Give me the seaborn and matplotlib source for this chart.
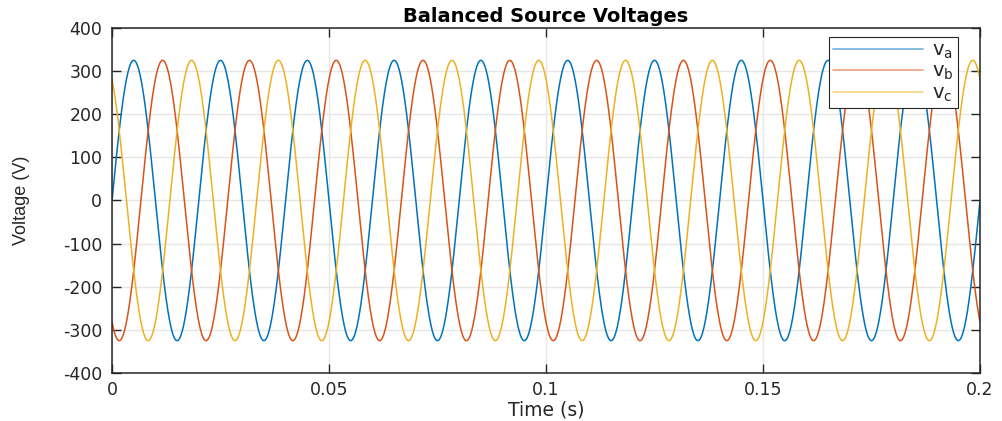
import numpy as np
import pandas as pd
import matplotlib
matplotlib.use("Agg")
import matplotlib.pyplot as plt
import seaborn as sns

# ---- data ----
phases = ["v_a", "v_b", "v_c"]
legend_labels = [r"$\mathregular{v_a}$", r"$\mathregular{v_b}$", r"$\mathregular{v_c}$"]
amplitudes = [325, 325, 325]          # peak voltage (V)
frequency_hz = [50, 50, 50]           # 10 cycles in 0.2 s
phase_deg = [0, -120, 120]            # phase shifts
colors = ["#0072BD", "#D95319", "#EDB120"]
x_ticks = [0, 0.05, 0.1, 0.15, 0.2]
x_tick_labels = ["0", "0.05", "0.1", "0.15", "0.2"]
y_ticks = [-400, -300, -200, -100, 0, 100, 200, 300, 400]

t = np.linspace(0, 0.2, 4001)
frames = []
for name, A, f, ph in zip(phases, amplitudes, frequency_hz, phase_deg):
    frames.append(pd.DataFrame({
        "Time (s)": t,
        "Voltage (V)": A * np.sin(2 * np.pi * f * t + np.deg2rad(ph)),
        "phase": name,
    }))
df = pd.concat(frames, ignore_index=True)

sns.set_theme(style="ticks")
plt.rcParams["font.family"] = ["DejaVu Sans"]
plt.rcParams["axes.unicode_minus"] = False

fig = plt.figure(figsize=(10.02, 4.21), dpi=100)
ax = fig.add_axes([112 / 1002, 1 - 373 / 421, (980 - 112) / 1002, (373 - 28) / 421])

sns.lineplot(data=df, x="Time (s)", y="Voltage (V)", hue="phase",
             palette=dict(zip(phases, colors)), linewidth=1.1, ax=ax,
             estimator=None, sort=False)

ax.set_xlim(0, 0.2)
ax.set_ylim(-400, 400)
ax.set_xticks(x_ticks)
ax.set_xticklabels(x_tick_labels)
ax.set_yticks(y_ticks)
ax.grid(True, color="#e6e6e6", linewidth=1.0)
ax.set_axisbelow(True)
ax.tick_params(direction="in", length=6.5, width=1.0, top=True, right=True,
               labelsize=12.5, colors="#262626", pad=7)
ax.tick_params(axis="x", pad=6)
for s in ax.spines.values():
    s.set_visible(True)
    s.set_color("#262626")
    s.set_linewidth(1.1)

ax.set_title("Balanced Source Voltages", fontsize=14, fontweight="bold",
             color="black", pad=4)
ax.set_xlabel("Time (s)", fontsize=13.5, color="#262626", labelpad=1)
ax.set_ylabel("Voltage (V)", fontsize=13, color="#262626", labelpad=24,
              family=["Liberation Sans"])

handles, _ = ax.get_legend_handles_labels()
leg = ax.legend(handles, legend_labels, loc="upper right",
                bbox_to_anchor=(0.9745, 0.974), frameon=True, fancybox=False,
                edgecolor="#262626", framealpha=1, fontsize=14,
                handlelength=4.6, borderpad=0.2, labelspacing=0.05,
                handletextpad=0.5, borderaxespad=0)
leg.get_frame().set_linewidth(0.8)
for h in leg.get_lines():
    h.set_alpha(0.55)
    h.set_linewidth(1.2)

fig.savefig("out.png", dpi=100)
